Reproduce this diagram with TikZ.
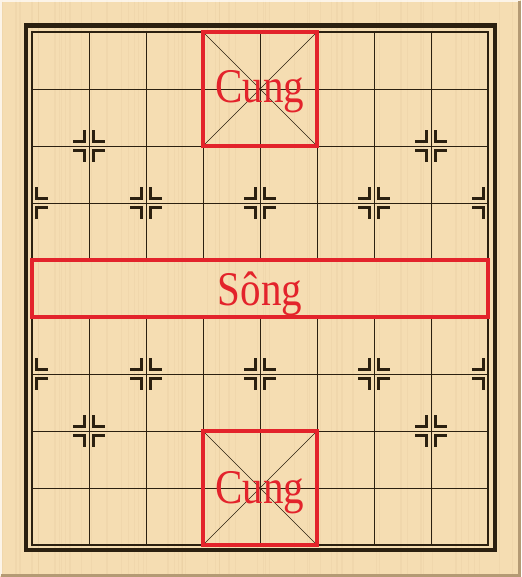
\documentclass[tikz,border=0pt]{standalone}
\usepackage{graphicx}
\usepackage{fontspec}
\setmainfont{Liberation Serif}
\usepackage{tikz}
\definecolor{boardWood}{HTML}{F5DDB2}
\definecolor{boardGrain}{HTML}{D9B98A}
\definecolor{boardInk}{HTML}{2B2010}
\definecolor{boardRed}{HTML}{E3232B}
\definecolor{boardShade}{HTML}{B49A74}
\tikzset{
  gridline/.style={draw=boardInk, line width=0.9pt},
  borderline/.style={draw=boardInk, line width=1.6pt},
  frameline/.style={draw=boardInk, line width=4.5pt},
  palacediag/.style={draw=boardInk, line width=0.6pt},
  zonebox/.style={draw=boardRed, line width=4pt},
  starmark/.style={draw=boardInk, line width=2.6pt},
  grainline/.style={draw=boardGrain, opacity=0.15},
  zonelabel/.style={
    text=boardRed,
    font=\fontsize{41}{41}\selectfont,
    inner sep=0pt,
    anchor=base
  }
}
% corner marks round one point of the grid
\newcommand{\starpoint}[2]{%
  \foreach \sx in {-1,1} {
    \foreach \sy in {-1,1} {
      \pgfmathtruncatemacro{\nc}{#1+\sx}
      \ifnum\nc<0 \else\ifnum\nc>8 \else
        \draw[starmark] (#1+\sx*0.075, #2+\sy*0.275) -- (#1+\sx*0.075, #2+\sy*0.075) -- (#1+\sx*0.275, #2+\sy*0.075);
      \fi\fi
    }
  }%
}

\begin{document}
\begin{tikzpicture}[x=57pt, y=-57pt]

\coordinate (bbTL) at (-0.5614,-0.5614);
\coordinate (bbBR) at (8.5789,9.5614);
\coordinate (bbTR) at (8.5789,-0.5614);
\coordinate (bbBL) at (-0.5614,9.5614);
\useasboundingbox (bbTL) rectangle (bbBR);
\fill[boardWood] (bbTL) rectangle (bbBR);

% wood grain
\pgfmathsetseed{7}
\foreach \i in {1,...,70} {
  \pgfmathsetmacro{\gx}{rnd*9.14-0.56}
  \pgfmathsetmacro{\gw}{0.3+rnd*0.9}
  \draw[grainline, line width=\gw pt] (\gx,-0.5614) -- (\gx,9.5614);
}

% bevel of the board edge
\draw[white, opacity=0.7, line width=2pt] ([shift={(0.02,-0.02)}]bbBL) -- ([shift={(0.02,0.02)}]bbTL) -- ([shift={(-0.02,0.02)}]bbTR);
\draw[boardShade, line width=2.5pt] ([shift={(0.02,-0.025)}]bbBL) -- ([shift={(-0.025,-0.025)}]bbBR) -- ([shift={(-0.025,0.02)}]bbTR);

% outer frame
\draw[frameline] (-0.105,-0.11) rectangle (8.12,9.088);

% grid
\foreach \r in {1,...,8} {
  \draw[gridline] (0,\r) -- (8,\r);
}
\foreach \c in {1,...,7} {
  \draw[gridline] (\c,0) -- (\c,4);
  \draw[gridline] (\c,5) -- (\c,9);
}
\draw[borderline] (0,0) rectangle (8,9);

% palace diagonals
\draw[palacediag] (3,0) -- (5,2);
\draw[palacediag] (5,0) -- (3,2);
\draw[palacediag] (3,7) -- (5,9);
\draw[palacediag] (5,7) -- (3,9);

% marks
\starpoint{1}{2}
\starpoint{7}{2}
\starpoint{1}{7}
\starpoint{7}{7}
\foreach \c in {0,2,4,6,8} {
  \starpoint{\c}{3}
  \starpoint{\c}{6}
}

% zones
\draw[zonebox] (3,0) rectangle (5,2);
\draw[zonebox] (0,4) rectangle (8,5);
\draw[zonebox] (3,7) rectangle (5,9);

\node[zonelabel] (palaceTop) at (4,1.23) {\scalebox{1}[1.18]{Cung}};
\node[zonelabel] (river) at (4,4.79) {\scalebox{1}[1.18]{Sông}};
\node[zonelabel] (palaceBottom) at (4,8.28) {\scalebox{1}[1.18]{Cung}};

\end{tikzpicture}
\end{document}
